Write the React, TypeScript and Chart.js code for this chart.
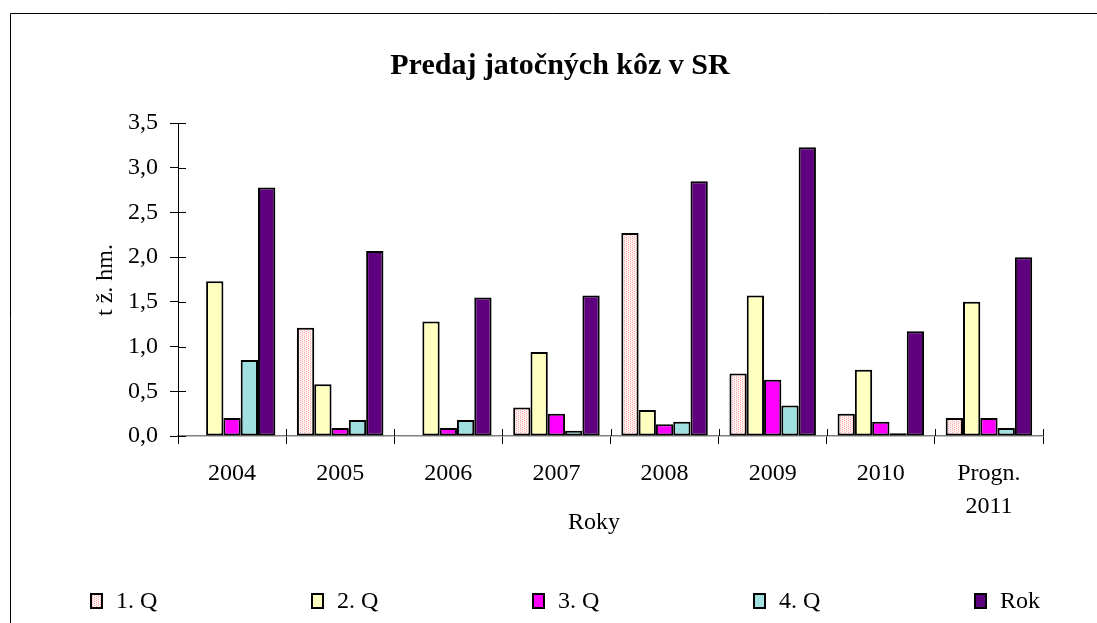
import React, { useEffect, useRef } from "react";
import { Chart, registerables } from "chart.js";

Chart.register(...registerables);

const categories: (string | string[])[] = ["2004", "2005", "2006", "2007", "2008", "2009", "2010", ["Progn.", "2011"]];
const seriesNames = ["1. Q", "2. Q", "3. Q", "4. Q", "Rok"];
const q1: (number | null)[] = [null, 1.21, null, 0.32, 2.27, 0.7, 0.25, 0.2];
const q2 = [1.73, 0.58, 1.28, 0.94, 0.29, 1.57, 0.74, 1.5];
const q3 = [0.2, 0.09, 0.09, 0.25, 0.13, 0.63, 0.16, 0.2];
const q4 = [0.85, 0.18, 0.18, 0.06, 0.16, 0.34, 0.03, 0.09];
const rok = [2.78, 2.07, 1.55, 1.57, 2.85, 3.23, 1.17, 2.0];
const titleText = "Predaj jatočných kôz v SR";
const yTitle = "t ž. hm.";
const xTitle = "Roky";

const FONT = "'Liberation Serif', 'Times New Roman', serif";

function makePattern(): CanvasPattern | string {
  const c = document.createElement("canvas");
  c.width = 4;
  c.height = 4;
  const g = c.getContext("2d");
  if (!g) return "#FFE4E4";
  g.fillStyle = "#FFF2F2";
  g.fillRect(0, 0, 4, 4);
  g.fillStyle = "#FFA8A8";
  g.fillRect(0, 0, 1, 1);
  g.fillRect(0, 2, 1, 1);
  g.fillRect(2, 1, 1, 1);
  g.fillRect(2, 3, 1, 1);
  const p = g.createPattern(c, "repeat");
  return p || "#FFE4E4";
}

export default function App() {
  const ref = useRef<HTMLCanvasElement | null>(null);

  useEffect(() => {
    const canvas = ref.current;
    if (!canvas) return;
    const pattern = makePattern();
    const colors: any[] = [pattern, "#FFFFC0", "#FF00FF", "#A0E0E0", "#5F007F"];
    const values = [q1, q2, q3, q4, rok];

    const decor = {
      id: "decor",
      afterDraw(chart: any) {
        const ctx = chart.ctx;
        const area = chart.chartArea;
        ctx.save();
        // outer border
        ctx.strokeStyle = "#000";
        ctx.lineWidth = 1;
        ctx.beginPath();
        ctx.moveTo(10.5, 623);
        ctx.lineTo(10.5, 13.5);
        ctx.lineTo(1097, 13.5);
        ctx.stroke();
        // title
        ctx.fillStyle = "#000";
        ctx.font = `bold 30px ${FONT}`;
        ctx.textAlign = "center";
        ctx.textBaseline = "alphabetic";
        ctx.fillText(titleText, 560, 74);
        // x title
        ctx.font = `24px ${FONT}`;
        ctx.textBaseline = "middle";
        ctx.fillText(xTitle, 594, 523);
        // y title
        ctx.save();
        ctx.translate(106, 280);
        ctx.rotate(-Math.PI / 2);
        ctx.fillText(yTitle, 0, 0);
        ctx.restore();
        // inner tick parts
        const ys = chart.scales.y;
        ctx.strokeStyle = "#000";
        ctx.beginPath();
        ys.ticks.forEach((t: any) => {
          const py = Math.round(ys.getPixelForValue(t.value)) + 0.5;
          ctx.moveTo(area.left, py);
          ctx.lineTo(area.left + 8, py);
        });
        const n = categories.length;
        for (let i = 0; i <= n; i++) {
          const px = Math.round(area.left + ((area.right - area.left) * i) / n) + 0.5;
          ctx.moveTo(px, area.bottom);
          ctx.lineTo(px, area.bottom - 7);
        }
        ctx.stroke();
        // legend
        ctx.textAlign = "left";
        ctx.textBaseline = "alphabetic";
        ctx.font = `24px ${FONT}`;
        seriesNames.forEach((name, i) => {
          const bx = 91 + i * 221;
          ctx.fillStyle = colors[i];
          ctx.fillRect(bx, 594, 11, 14);
          ctx.lineWidth = 2;
          ctx.strokeStyle = "#000";
          ctx.strokeRect(bx, 594, 11, 14);
          ctx.fillStyle = "#000";
          ctx.fillText(name, bx + 25, 608);
        });
        ctx.restore();
      },
    };

    const chart = new Chart(canvas, {
      type: "bar",
      data: {
        labels: categories as any,
        datasets: seriesNames.map((name, i) => ({
          label: name,
          data: values[i] as any,
          backgroundColor: colors[i],
          borderColor: "#000",
          borderWidth: 2,
          borderSkipped: false,
          categoryPercentage: 0.8,
          barPercentage: 1.0,
        })),
      },
      options: {
        animation: false,
        responsive: false,
        devicePixelRatio: 1,
        events: [],
        layout: { padding: { top: 123, left: 10, right: 54, bottom: 10 } },
        plugins: {
          legend: { display: false },
          title: { display: false },
          tooltip: { enabled: false },
        },
        scales: {
          x: {
            type: "category",
            offset: true,
            afterFit: (s: any) => {
              s.height = 177;
            },
            grid: {
              display: true,
              drawOnChartArea: false,
              drawTicks: true,
              tickLength: 8,
              offset: true,
              color: "#000",
              lineWidth: 1,
            },
            border: { display: true, color: "#808080", width: 1.5 },
            ticks: {
              color: "#000",
              padding: 13,
              maxRotation: 0,
              autoSkip: false,
              font: { family: FONT, size: 24, lineHeight: 1.375 },
            },
          },
          y: {
            min: 0,
            max: 3.5,
            afterFit: (s: any) => {
              s.width = 168;
            },
            grid: {
              display: true,
              drawOnChartArea: false,
              drawTicks: true,
              tickLength: 8,
              color: "#000",
              lineWidth: 1,
            },
            border: { display: true, color: "#000", width: 1 },
            ticks: {
              stepSize: 0.5,
              color: "#000",
              padding: 12,
              font: { family: FONT, size: 24 },
              callback: (v: any) => Number(v).toFixed(1).replace(".", ","),
            },
          },
        },
      },
      plugins: [decor],
    });
    return () => chart.destroy();
  }, []);

  return (
    <div style={{ position: "absolute", left: 0, top: 0, width: 1097, height: 623, background: "#fff" }}>
      <canvas ref={ref} width={1097} height={623} style={{ display: "block" }} />
    </div>
  );
}
